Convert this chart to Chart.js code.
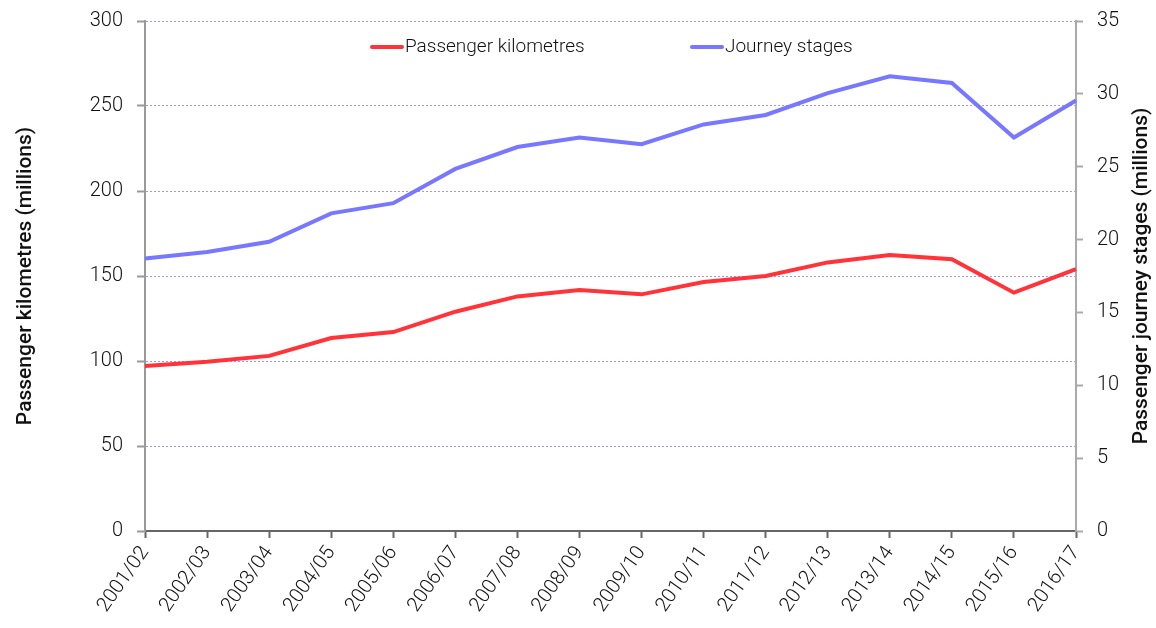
<!DOCTYPE html>
<html>
<head>
<meta charset="utf-8">
<script src="https://cdn.jsdelivr.net/npm/chart.js@4.4.1/dist/chart.umd.min.js"></script>
<style>
  html, body { margin: 0; padding: 0; background: #fff; }
  #wrap { width: 1156px; height: 628px; }
</style>
</head>
<body>
<div id="wrap"><canvas id="chart" width="1156" height="628"></canvas></div>
<script>
// years on the x axis
const years = ['2001/02', '2002/03', '2003/04', '2004/05', '2005/06', '2006/07', '2007/08', '2008/09',
  '2009/10', '2010/11', '2011/12', '2012/13', '2013/14', '2014/15', '2015/16', '2016/17'];
// left axis, millions
const passengerKm = [97, 99.5, 103, 113.5, 117, 129, 138, 141.8, 139.2, 146.5, 150, 158, 162.3, 159.8, 140.2, 154];
// right axis, millions
const journeyStages = [18.7, 19.15, 19.85, 21.8, 22.5, 24.85, 26.35, 27.0, 26.55, 27.9, 28.55, 30.05, 31.2, 30.75, 27.0, 29.55];

const kmMax = 300, kmStep = 50;
const stagesMax = 35, stagesStep = 5;
const rightTitle = 'Passenger journey stages (millions)';

const FONT = 'Roboto';
const ctx = document.getElementById('chart').getContext('2d');

// legend drawn inside the plot, the way the original has it
const inlineLegend = {
  id: 'inlineLegend',
  afterDraw(chart) {
    const c = chart.ctx;
    const spots = [372, 692];
    const y = 47;
    c.save();
    c.font = '300 19px ' + FONT;
    c.textBaseline = 'middle';
    chart.data.datasets.forEach((ds, i) => {
      const x = spots[i];
      c.strokeStyle = ds.borderColor;
      c.lineWidth = 4;
      c.lineCap = 'round';
      c.beginPath();
      c.moveTo(x, y);
      c.lineTo(x + 30, y);
      c.stroke();
      c.fillStyle = '#111';
      c.fillText(ds.label, x + 33, y);
    });
    c.restore();
  }
};

// chart.js turns right-hand titles the other way, so draw this one by hand
const rightAxisTitle = {
  id: 'rightAxisTitle',
  afterDraw(chart) {
    const c = chart.ctx;
    const area = chart.chartArea;
    c.save();
    c.translate(1142, (area.top + area.bottom) / 2);
    c.rotate(-Math.PI / 2);
    c.font = '500 21px ' + FONT;
    c.fillStyle = '#111';
    c.textAlign = 'center';
    c.textBaseline = 'middle';
    c.fillText(rightTitle, 0, 0);
    c.restore();
  }
};

// fixed axis sizes; drop the extra room chart.js asks for above the top label
function fitY(width) {
  return (s) => {
    s.width = width;
    s.paddingTop = 0;
    s.paddingBottom = 0;
  };
}

const chart = new Chart(ctx, {
  type: 'line',
  data: {
    labels: years,
    datasets: [
      {
        label: 'Passenger kilometres',
        data: passengerKm,
        borderColor: '#ff3338',
        borderWidth: 4,
        pointRadius: 0,
        tension: 0,
        yAxisID: 'y'
      },
      {
        label: 'Journey stages',
        data: journeyStages,
        borderColor: '#7777ff',
        borderWidth: 4,
        pointRadius: 0,
        tension: 0,
        yAxisID: 'y1'
      }
    ]
  },
  options: {
    responsive: false,
    animation: false,
    layout: { padding: { top: 21 } },
    plugins: {
      legend: { display: false },
      tooltip: { enabled: false }
    },
    scales: {
      x: {
        offset: false,
        afterFit: (s) => { s.height = 97; },
        grid: { drawOnChartArea: false, tickLength: 7, tickColor: '#666', tickWidth: 2 },
        border: { color: '#666', width: 2 },
        ticks: {
          color: '#111',
          font: { family: FONT, size: 20, weight: '300' },
          minRotation: 55,
          maxRotation: 55,
          autoSkip: false,
          padding: 4
        }
      },
      y: {
        position: 'left',
        min: 0,
        max: kmMax,
        afterFit: fitY(145),
        grid: {
          color: (c) => c.tick && c.tick.value === 0 ? 'rgba(0,0,0,0)' : '#a596f2',
          lineWidth: 1,
          tickLength: 8,
          tickColor: '#999',
          tickWidth: 2
        },
        border: { color: '#999', width: 2, dash: [2, 2] },
        ticks: {
          stepSize: kmStep,
          color: '#111',
          font: { family: FONT, size: 20, weight: '300' },
          padding: 14
        },
        title: {
          display: true,
          text: 'Passenger kilometres (millions)',
          color: '#111',
          font: { family: FONT, size: 21, weight: '500' },
          padding: { top: 13, bottom: 0 }
        }
      },
      y1: {
        position: 'right',
        min: 0,
        max: stagesMax,
        afterFit: fitY(80),
        grid: { drawOnChartArea: false, tickLength: 7, tickColor: '#aaa', tickWidth: 2 },
        border: { color: '#aaa', width: 2 },
        ticks: {
          stepSize: stagesStep,
          color: '#111',
          font: { family: FONT, size: 20, weight: '300' },
          padding: 14
        }
      }
    }
  },
  plugins: [inlineLegend, rightAxisTitle]
});
</script>
</body>
</html>
